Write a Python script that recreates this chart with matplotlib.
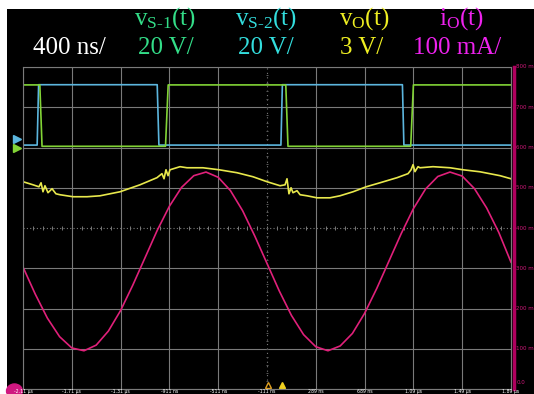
import matplotlib
matplotlib.use('Agg')
import matplotlib.pyplot as plt
from matplotlib import rcParams
from matplotlib.patches import Rectangle, Ellipse

# ----- 示波器数据 -----
# 时间轴 (ns)，每格 400 ns
t_left, t_right = -2110, 1890
ns_per_div = 400
time_labels = ['-2.11 µs', '-1.71 µs', '-1.31 µs', '-911 ns', '-511 ns', '-111 ns',
               '289 ns', '689 ns', '1.09 µs', '1.49 µs', '1.89 µs']
current_labels = ['800 m', '700 m', '600 m', '500 m', '400 m',
                  '300 m', '200 m', '100 m', '0.0']

# v_S-1(t)：折点 (ns, V)
vs1_t = [-2110, -1972, -1954, -942, -920, 44, 62, 1068, 1090, 1890]
vs1_v = [30.5, 30.5, 0, 0, 30.5, 30.5, 0, 0, 30.5, 30.5]

# v_S-2(t)：折点 (ns, V)
vs2_t = [-2110, -1994, -1982, -1010, -996, 4, 16, 1000, 1012, 1890]
vs2_v = [0, 0, 30, 30, 0, 0, 30, 30, 0, 0]

# v_O(t)：读图取点 (ns, V)
vo_t = [-2110, -2028, -1979, -1962, -1946, -1930, -1905, -1872, -1840, -1807,
        -1700, -1585, -1479, -1315, -1151, -1012, -971, -954, -938, -921,
        -905, -823, -766, -635, -503, -356, -225, -110, -3, 38,
        54, 70, 87, 103, 136, 161, 218, 300, 406, 488,
        595, 702, 816, 956, 1046, 1071, 1087, 1103, 1128, 1144,
        1251, 1390, 1497, 1636, 1800, 1890]
vo_v = [15.45, 15.22, 15.07, 15.37, 14.70, 15.15, 14.63, 14.93, 14.55, 14.48,
        14.33, 14.33, 14.40, 14.70, 15.22, 15.75, 16.05, 15.67, 16.34, 15.90,
        16.34, 16.57, 16.49, 16.49, 16.34, 16.12, 15.82, 15.45, 15.15, 15.22,
        15.67, 14.55, 15.00, 14.63, 14.78, 14.48, 14.40, 14.25, 14.25, 14.40,
        14.70, 15.07, 15.37, 15.75, 16.05, 16.34, 16.72, 16.20, 16.57, 16.49,
        16.57, 16.49, 16.34, 16.19, 15.90, 15.67]

# i_O(t)：每 100 ns 读一个点 (mA)
io_t = [-2110, -2010, -1910, -1810, -1710, -1610, -1510, -1410, -1310, -1210,
        -1110, -1010, -910, -810, -710, -610, -510, -410, -310, -210,
        -110, -10, 90, 190, 290, 390, 490, 590, 690, 790,
        890, 990, 1090, 1190, 1290, 1390, 1490, 1590, 1690, 1790, 1890]
io_ma = [303, 236, 176, 130, 102, 95, 109, 144, 195, 258,
         326, 394, 454, 501, 530, 539, 526, 493, 443, 380,
         312, 244, 183, 135, 105, 95, 107, 138, 188, 250,
         318, 386, 448, 497, 528, 539, 529, 498, 450, 389, 315]

# 通道设置：(每格刻度, 零点所在格)
ch_vs1 = (20, 6.03)
ch_vs2 = (20, 6.06)
ch_vo = (3, 0.0)
ch_io = (100, 0.0)


def to_div(values, ch):
    scale, offset = ch
    return [offset + v / scale for v in values]


# ----- 字体设置 -----
rcParams['font.family'] = ['Liberation Serif', 'DejaVu Sans']
rcParams['mathtext.fontset'] = 'custom'
rcParams['mathtext.rm'] = 'Liberation Serif'
rcParams['mathtext.it'] = 'Liberation Serif:italic'

W, H = 534, 394
fig = plt.figure(figsize=(W / 100, H / 100), dpi=100)
fig.patch.set_facecolor('white')
fig.patches.append(Rectangle((7 / W, 0), 1, 1 - 9 / H, transform=fig.transFigure,
                             facecolor='black', edgecolor='none', zorder=-5))

ax = fig.add_axes([23 / W, 5 / H, 488 / W, 322 / H])
ax.set_zorder(2)
ax.set_facecolor('black')
ax.set_xlim(t_left, t_right)
ax.set_ylim(0, 8)

# 网格（中心线单独画成点线）
grid_c = '#7a7a7a'
ax.set_xticks([t_left + ns_per_div * i for i in range(11) if i != 5])
ax.set_yticks([i for i in range(9) if i != 4])
ax.tick_params(length=0, labelbottom=False, labelleft=False)
ax.grid(True, color=grid_c, lw=0.8)
for s in ax.spines.values():
    s.set_color(grid_c)
    s.set_linewidth(0.8)

t_mid = t_left + 5 * ns_per_div
ax.axhline(4, color=grid_c, lw=0.8, ls=(0, (1, 2)))
ax.axvline(t_mid, color=grid_c, lw=0.8, ls=(0, (1, 3)))
minor_t = [t_left + 80 * i for i in range(51)]
minor_y = [0.2 * i for i in range(41)]
ax.plot(minor_t, [4] * len(minor_t), ls='none', marker='|', ms=2.5, mew=0.7, color=grid_c)
ax.plot([t_mid] * len(minor_y), minor_y, ls='none', marker='_', ms=2, mew=0.7, color='#5a5a5a')

# 波形
ax.plot(vs2_t, to_div(vs2_v, ch_vs2), color='#5cb6de', lw=1.2)
ax.plot(vs1_t, to_div(vs1_v, ch_vs1), color='#82d436', lw=1.2)
ax.plot(vo_t, to_div(vo_v, ch_vo), color='#e8e84c', lw=1.2)
ax.plot(io_t, to_div(io_ma, ch_io), color='#e0207a', lw=1.2)

# 左侧通道标记、底部触发标记
ax.plot([t_left - 50], [6.22], marker='>', ms=6, color='#5cb6de', clip_on=False)
ax.plot([t_left - 50], [6.0], marker='>', ms=6, color='#82d436', clip_on=False)
ax.add_patch(Ellipse((t_left - 70, -0.05), 130, 0.35, color='#d01880', clip_on=False))
ax.plot([t_mid + 10], [0.1], marker='^', ms=5, mfc='none', mec='#e0a020', mew=1)
ax.plot([t_mid + 125], [0.1], marker='^', ms=5, color='#f0d020')

# 右侧电流刻度条
ax.plot([t_right + 25, t_right + 25], [0, 8], color='#b0005e', lw=2.5, clip_on=False)
for k, lab in enumerate(current_labels):
    yk = 8 - k if k < 8 else 0.15
    ax.text(t_right + 45, yk, lab, color='#d0187a', fontsize=4, va='center', ha='left',
            family='DejaVu Sans', clip_on=False)

# 底部时间刻度（贴着图片下沿）
for i, lab in enumerate(time_labels):
    fig.text((23 + 48.8 * i) / W, 0.4 / H, lab, color='white', fontsize=3.3, va='bottom',
             ha='center', family='DejaVu Sans')

# 顶部通道说明
def head(x, y, s, c):
    fig.text(x / W, 1 - y / H, s, color=c, fontsize=18, ha='center', va='center')

head(69, 48, '400 ns/', 'white')
head(165, 19, r'v$_{\mathrm{S}\text{-}1}$(t)', '#33dd88')
head(166, 48, '20 V/', '#33dd88')
head(266, 19, r'v$_{\mathrm{S}\text{-}2}$(t)', '#33dddd')
head(266, 48, '20 V/', '#33dddd')
head(364, 19, r'v$_{\mathrm{O}}$(t)', '#eeee22')
head(362, 48, '3 V/', '#eeee22')
head(461, 19, r'i$_{\mathrm{O}}$(t)', '#ee22ee')
head(457, 48, '100 mA/', '#ee22ee')

fig.savefig('out.png', dpi=100, facecolor=fig.get_facecolor())
